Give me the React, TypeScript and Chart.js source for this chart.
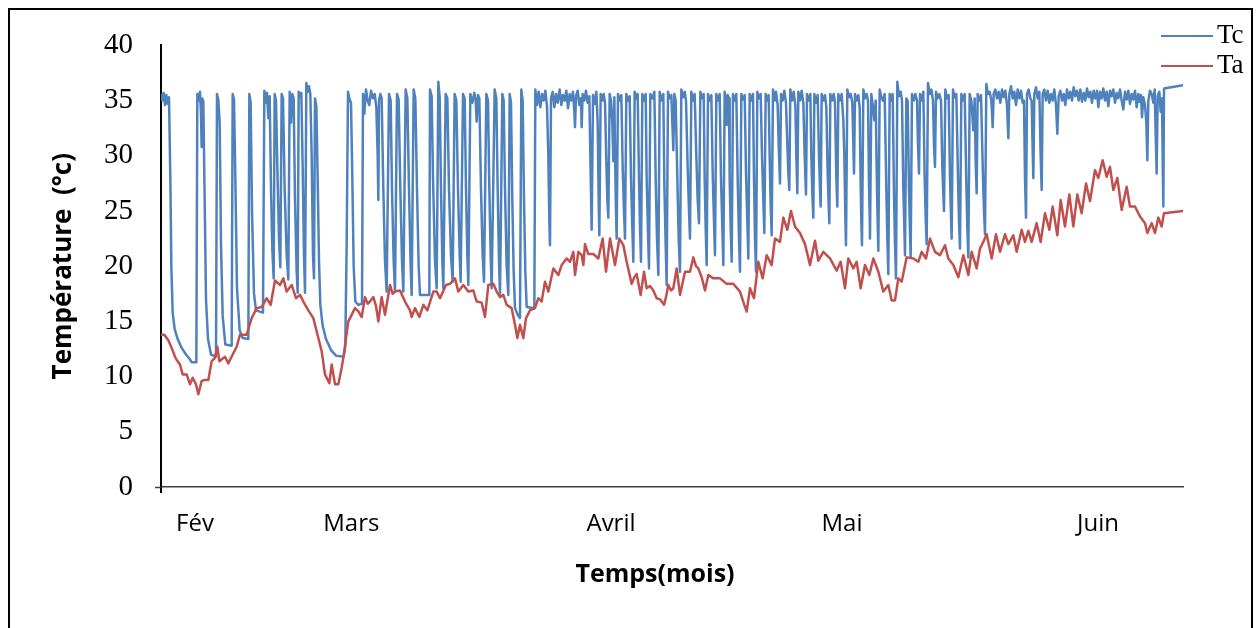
import { useEffect, useRef } from 'react';
import { Chart, registerables } from 'chart.js';

Chart.register(...registerables);

type Row = [number, number];

// Tc : [heures depuis le début de l'enregistrement, température °C]
const tcFev: Row[] = [
  [0, 35.6], [4, 35.0], [8, 35.7], [12, 34.6], [16, 35.5], [20, 34.7], [24, 35.3],
  [28, 28.0], [31, 20.0], [35, 15.8], [41, 14.3], [50, 13.4], [62, 12.6], [75, 12.0], [86, 11.6], [92, 11.3], [106, 11.3],
  [109, 35.6], [113, 35.0], [117, 35.8], [120, 33.8], [122, 30.8], [124, 35.2], [127, 34.9],
  [131, 26.0], [135, 17.0], [141, 13.4], [150, 12.0], [165, 11.8],
  [168, 35.6], [172, 35.1], [176, 33.0], [180, 22.0], [185, 15.5], [193, 12.9], [212, 12.8],
  [215, 35.6], [219, 35.1], [223, 28.0], [228, 18.0], [236, 14.2], [245, 13.5], [262, 13.4],
  [265, 35.6], [269, 34.8], [273, 25.0], [279, 17.5], [285, 16.0], [306, 15.8],
  [310, 35.9], [314, 34.8], [318, 35.7], [322, 33.4], [326, 35.4],
  [330, 27.0], [334, 21.5], [338, 18.9],
  [341, 35.6], [345, 35.0], [349, 29.0], [354, 22.5], [358, 19.9],
  [362, 35.6], [366, 35.2], [371, 27.0], [377, 21.0], [382, 18.8],
  [386, 35.8], [390, 33.0], [394, 35.6], [398, 35.2], [402, 26.0], [407, 19.5], [410, 17.6],
  [413, 35.8], [417, 35.3], [421, 35.7], [425, 29.0], [429, 21.0], [432, 17.6],
  [436, 36.6], [440, 35.8], [444, 36.3], [448, 35.6], [452, 30.0], [456, 21.0], [459, 18.9],
  [462, 35.2], [466, 34.5], [470, 28.0], [474, 20.5], [478, 16.5], [485, 14.6], [495, 13.4], [510, 12.4],
  [525, 11.9], [548, 11.8], [553, 13.0], [557, 22.0], [561, 35.8],
];

const tcMars: Row[] = [
  [565, 35.2], [570, 34.8], [574, 28.0], [578, 20.0], [583, 16.8], [592, 16.5], [603, 16.6],
  [606, 35.6], [610, 33.8], [615, 36.0], [620, 35.0], [625, 34.6], [630, 35.9], [636, 35.2], [641, 35.6],
  [646, 34.4], [650, 30.0], [652, 26.0], [654, 35.0], [658, 35.6], [662, 35.2],
  [667, 27.0], [672, 20.5], [677, 17.7],
  [684, 35.6], [689, 35.0], [693, 27.0], [698, 20.5], [702, 17.7],
  [708, 35.6], [713, 35.1], [718, 27.0], [723, 20.5], [727, 17.7],
  [734, 36.0], [739, 35.2], [744, 27.0], [749, 20.0], [752, 17.4],
  [758, 36.0], [763, 35.2], [768, 27.0], [773, 20.0], [777, 17.4], [805, 17.4],
  [807, 36.0], [812, 35.4], [816, 28.0], [822, 20.5], [827, 18.0],
  [832, 36.7], [836, 35.3], [840, 27.0], [844, 20.5], [847, 18.0],
  [854, 35.6], [859, 35.2], [864, 27.0], [870, 21.0], [875, 18.6],
  [881, 35.6], [886, 35.0], [891, 27.0], [896, 21.0], [899, 18.6],
  [906, 35.6], [911, 35.2], [915, 27.0], [919, 21.0], [922, 18.3],
  [928, 35.6], [934, 34.8], [940, 35.7], [944, 35.0], [947, 33.1], [951, 35.5], [955, 35.2],
  [960, 27.0], [965, 21.0], [969, 18.6],
  [976, 35.6], [981, 35.0], [985, 27.0], [989, 21.0], [992, 18.0],
  [1001, 36.0], [1006, 35.2], [1010, 27.0], [1014, 20.5], [1017, 17.4],
  [1024, 35.6], [1028, 35.0], [1032, 27.0], [1037, 20.0], [1042, 17.4],
  [1046, 35.6], [1050, 34.8], [1054, 26.0], [1058, 19.5], [1062, 16.2], [1070, 15.6], [1077, 15.3],
  [1081, 36.0], [1085, 35.0], [1089, 26.0], [1093, 19.5], [1097, 16.3], [1120, 16.2],
  [1123, 36.0], [1128, 34.6], [1133, 35.8], [1138, 34.4], [1143, 35.6], [1148, 35.0], [1153, 35.9],
  [1158, 34.5], [1162, 30.0], [1165, 24.0], [1167, 21.9], [1170, 35.2], [1175, 35.8], [1180, 34.4],
  [1185, 35.6], [1190, 34.8], [1196, 36.0], [1201, 34.6], [1206, 35.5], [1211, 35.0], [1216, 35.9],
  [1221, 34.3], [1226, 35.6], [1231, 35.0], [1236, 35.8], [1240, 34.0], [1242, 32.6], [1245, 35.4],
  [1250, 35.9], [1255, 34.6], [1260, 35.2], [1262, 32.6], [1265, 35.6], [1270, 35.0], [1275, 35.9],
  [1280, 34.8], [1285, 35.4], [1288, 30.0], [1292, 23.3], [1296, 35.5], [1301, 34.7], [1306, 35.8],
  [1310, 33.0], [1313, 26.0], [1315, 22.8], [1319, 35.6],
];

const tcAvril: Row[] = [
  [1324, 35.0], [1328, 35.6], [1332, 34.8],
  [1336, 29.5], [1339, 26.0], [1342, 24.4], [1346, 35.6], [1350, 35.0],
  [1354, 33.0], [1357, 29.5], [1360, 35.3],
  [1363, 28.5], [1365, 25.0], [1367, 22.5], [1371, 35.6], [1376, 35.0], [1381, 35.5],
  [1385, 29.0], [1389, 25.0], [1392, 22.5], [1396, 35.6], [1401, 35.0], [1406, 35.4],
  [1410, 28.0], [1414, 23.5], [1417, 20.4], [1421, 35.8], [1426, 35.2], [1430, 35.6],
  [1434, 28.0], [1437, 23.5], [1440, 20.4], [1444, 35.6], [1449, 35.0], [1454, 35.6],
  [1457, 28.0], [1461, 23.0], [1464, 19.8], [1468, 35.6], [1474, 35.2], [1480, 35.8],
  [1484, 28.0], [1488, 22.5], [1492, 19.2], [1496, 35.8], [1502, 35.0], [1507, 35.6],
  [1510, 27.5], [1514, 22.0], [1517, 18.3], [1521, 35.8], [1526, 35.2], [1531, 35.5],
  [1534, 33.0], [1537, 30.5], [1540, 35.6], [1544, 35.0],
  [1549, 28.0], [1553, 22.5], [1557, 19.5], [1561, 36.0], [1566, 35.3], [1571, 35.8], [1575, 35.0],
  [1580, 29.0], [1584, 25.0], [1587, 22.5], [1591, 35.8], [1596, 35.0], [1601, 35.6],
  [1606, 30.0], [1610, 26.0], [1614, 23.9], [1618, 35.8], [1623, 35.2], [1628, 35.6],
  [1631, 28.0], [1634, 23.5], [1637, 20.1], [1641, 35.6], [1646, 35.0], [1651, 35.5],
  [1655, 28.5], [1659, 24.0], [1662, 21.0], [1666, 35.6], [1671, 35.0], [1676, 35.6],
  [1680, 28.0], [1684, 23.5], [1687, 20.1], [1691, 35.8], [1694, 35.0], [1697, 32.8], [1700, 35.5], [1704, 35.2],
  [1706, 28.0], [1709, 23.5], [1712, 20.4], [1716, 35.6], [1721, 35.0], [1726, 35.6],
  [1730, 28.0], [1734, 22.5], [1737, 19.5], [1741, 35.6], [1746, 35.1], [1751, 35.5],
  [1755, 28.5], [1759, 24.0], [1762, 20.7], [1766, 35.6], [1771, 35.0], [1776, 35.6],
  [1779, 28.0], [1782, 22.5], [1785, 19.5], [1789, 35.8], [1794, 35.2], [1799, 35.6],
  [1803, 30.0], [1807, 26.0], [1810, 23.0], [1814, 35.6], [1819, 35.0], [1823, 35.5],
  [1826, 30.0], [1829, 25.5], [1832, 22.8], [1836, 36.0], [1841, 35.0], [1845, 35.8], [1850, 34.6],
  [1853, 31.0], [1857, 27.5], [1860, 35.6], [1865, 35.0], [1870, 35.9], [1875, 34.8],
  [1879, 31.0], [1882, 28.5], [1885, 26.9], [1888, 36.0], [1893, 35.0], [1898, 35.8], [1903, 34.6],
  [1906, 30.0], [1909, 26.6], [1912, 35.8], [1917, 35.0], [1922, 35.9], [1927, 34.8],
  [1931, 30.0], [1935, 26.5], [1938, 35.6], [1943, 35.0], [1948, 35.6],
  [1951, 30.0], [1954, 26.5], [1957, 24.4], [1960, 35.6], [1965, 34.8], [1970, 35.5],
  [1974, 30.0], [1977, 27.0], [1979, 25.4], [1982, 35.6], [1987, 35.0], [1992, 35.5], [1996, 34.4],
  [2000, 28.5], [2003, 25.5], [2005, 23.9], [2008, 35.6], [2013, 35.0], [2018, 35.6], [2022, 34.8],
  [2026, 28.0], [2029, 25.4], [2032, 35.6], [2037, 35.0],
];

const tcMai: Row[] = [
  [2042, 35.6], [2047, 33.2], [2050, 30.0], [2053, 24.5], [2055, 21.9], [2059, 36.0], [2064, 35.3], [2069, 35.6], [2074, 34.8],
  [2077, 31.0], [2079, 28.4], [2082, 35.6], [2087, 35.0], [2092, 35.5], [2096, 34.4],
  [2099, 27.5], [2101, 24.0], [2103, 21.9], [2107, 36.0], [2112, 35.2], [2117, 35.6], [2121, 35.0],
  [2124, 27.5], [2126, 24.5], [2127, 22.5], [2131, 35.6], [2136, 34.4], [2140, 33.2], [2144, 35.0],
  [2148, 27.0], [2150, 24.0], [2152, 21.4], [2156, 36.0], [2161, 35.3], [2166, 35.0], [2171, 35.6],
  [2176, 27.0], [2179, 22.5], [2182, 19.3], [2186, 35.6], [2191, 35.0], [2195, 35.6],
  [2199, 26.5], [2202, 22.0], [2205, 18.9], [2209, 36.7], [2214, 35.4], [2219, 35.8], [2223, 35.0],
  [2227, 27.0], [2230, 23.5], [2232, 21.0], [2236, 35.2], [2240, 35.0],
  [2244, 27.0], [2247, 23.0], [2249, 20.8], [2253, 35.6], [2258, 35.0], [2263, 35.6], [2268, 35.0],
  [2271, 31.0], [2274, 28.4], [2277, 35.6], [2282, 35.0], [2287, 35.8],
  [2291, 28.0], [2294, 24.5], [2297, 22.0], [2301, 36.6], [2306, 35.6], [2311, 36.0], [2316, 35.0],
  [2319, 31.0], [2322, 29.0], [2325, 35.8], [2330, 35.2], [2335, 35.6], [2340, 35.0],
  [2344, 29.0], [2347, 26.5], [2349, 25.0], [2353, 36.0], [2358, 35.2], [2363, 35.5],
  [2367, 28.0], [2370, 24.5], [2372, 22.5], [2376, 36.0], [2381, 35.3], [2386, 35.6],
  [2391, 28.0], [2394, 24.0], [2397, 21.6], [2401, 35.6], [2406, 35.0], [2411, 35.6],
  [2416, 27.5], [2419, 23.5], [2422, 20.8], [2426, 35.6], [2431, 35.0], [2437, 32.3], [2441, 35.2],
  [2444, 29.5], [2447, 26.6], [2450, 35.6], [2455, 35.0], [2460, 35.5],
  [2466, 28.0], [2469, 25.0], [2472, 22.9], [2476, 36.5], [2481, 35.6], [2486, 35.8], [2491, 35.0],
  [2493, 34.0], [2495, 32.6], [2498, 35.6], [2503, 36.0], [2508, 35.2], [2513, 35.8], [2518, 34.8],
  [2523, 36.0], [2528, 35.3], [2533, 35.9], [2538, 34.6], [2542, 31.6], [2545, 35.6], [2550, 36.3],
  [2555, 35.2], [2560, 35.8], [2565, 34.6], [2570, 36.0], [2575, 35.2], [2580, 35.9], [2585, 34.8], [2589, 35.0],
  [2592, 28.0], [2595, 24.4], [2598, 35.6], [2603, 36.0], [2608, 35.2], [2612, 35.0],
  [2615, 30.5], [2617, 28.0], [2620, 35.6], [2625, 36.2], [2630, 35.2], [2635, 35.8],
  [2639, 30.0], [2642, 26.9], [2645, 35.6], [2650, 36.0], [2655, 35.0], [2660, 35.9], [2665, 34.8],
  [2670, 35.6], [2675, 35.0], [2680, 36.0], [2685, 34.6], [2689, 32.0], [2693, 35.4], [2698, 35.9],
  [2703, 35.0], [2708, 35.6], [2713, 34.6], [2718, 36.0], [2723, 35.2], [2728, 35.8], [2733, 35.0],
  [2738, 36.2], [2743, 35.4], [2748, 35.9], [2753, 35.0], [2758, 36.0], [2763, 34.9], [2768, 35.7],
  [2773, 35.0], [2778, 36.1], [2783, 35.3], [2788, 35.8], [2793, 34.8], [2798, 35.9],
];

const tcJuin: Row[] = [
  [2803, 35.2], [2808, 35.9], [2812, 34.4], [2817, 35.8], [2822, 35.2], [2827, 36.1], [2832, 35.0],
  [2837, 35.8], [2842, 34.5], [2847, 35.9], [2852, 35.4], [2857, 36.0], [2862, 34.8], [2867, 35.7],
  [2872, 35.2], [2877, 36.0], [2882, 35.0], [2887, 34.2], [2892, 35.8], [2897, 35.1], [2902, 35.9],
  [2907, 34.7], [2912, 35.6], [2917, 35.1], [2922, 35.9], [2927, 34.4], [2932, 35.6], [2936, 34.9],
  [2940, 35.5], [2943, 33.5], [2947, 35.3], [2952, 34.6], [2956, 33.0], [2959, 29.6], [2962, 35.0],
  [2967, 35.9], [2972, 35.6], [2977, 34.8], [2981, 36.0], [2984, 32.0], [2987, 28.4], [2990, 35.4],
  [2995, 35.8], [2999, 34.0], [3003, 35.2], [3005, 30.0], [3007, 25.4], [3009, 36.1], [3066, 36.4],
];

// Ta : [heures depuis le début de l'enregistrement, température °C]
const taFev: Row[] = [
  [0, 13.8], [10, 13.8], [22, 13.3], [32, 12.6], [42, 11.8], [47, 11.5], [57, 11.1], [65, 10.2],
  [77, 10.2], [87, 9.3], [95, 9.9], [105, 9.3], [112, 8.4], [122, 9.6], [132, 9.7], [142, 9.7],
  [152, 11.4], [162, 11.7], [169, 12.7], [175, 11.4], [192, 11.8], [202, 11.2], [215, 12.0],
  [227, 12.7], [237, 13.8], [257, 13.8], [272, 15.3], [287, 16.2], [302, 16.3], [317, 17.1],
  [329, 16.5], [342, 18.7], [357, 18.3], [367, 18.9], [377, 17.7], [392, 18.3], [405, 17.1],
  [417, 17.4], [427, 16.8], [442, 16.0], [457, 15.3], [472, 13.5], [482, 12.3], [492, 10.2],
  [505, 9.4], [512, 11.1], [522, 9.3], [532, 9.3], [542, 10.8], [552, 12.6], [555, 13.5], [562, 15.0],
];

const taMars: Row[] = [
  [567, 15.3], [582, 16.2], [592, 15.9], [602, 15.4], [612, 17.2], [620, 16.6], [627, 16.8], [637, 17.2],
  [645, 16.4], [652, 15.0], [662, 17.2], [672, 15.6], [687, 18.3], [695, 17.5], [702, 17.7], [717, 17.8],
  [732, 16.8], [747, 16.0], [752, 15.4], [762, 16.2], [775, 15.4], [787, 16.5], [799, 16.0], [817, 17.7],
  [827, 17.7], [837, 17.1], [855, 18.3], [867, 18.4], [882, 18.9], [892, 17.7], [907, 18.3], [922, 17.7],
  [937, 17.8], [947, 16.8], [962, 16.7], [972, 15.4], [982, 18.3], [997, 18.4], [1007, 17.7], [1017, 17.2],
  [1027, 17.4], [1037, 16.5], [1052, 16.2], [1062, 14.7], [1069, 13.5], [1077, 14.7], [1087, 13.5],
  [1095, 15.3], [1107, 16.0], [1122, 16.2], [1132, 17.1], [1142, 16.8], [1152, 18.6], [1162, 17.7],
  [1177, 19.8], [1192, 19.2], [1202, 20.1], [1217, 20.7], [1227, 20.4], [1237, 21.3], [1242, 19.2],
  [1252, 21.3], [1262, 21.0], [1267, 20.1], [1272, 22.0], [1282, 21.1], [1297, 21.1], [1312, 20.7], [1325, 22.5],
];

const taAvril: Row[] = [
  [1335, 19.5], [1347, 22.5], [1362, 20.1], [1375, 22.5], [1387, 21.9], [1397, 20.4], [1412, 18.4],
  [1420, 19.0], [1427, 19.3], [1439, 17.4], [1449, 19.5], [1457, 18.0], [1467, 18.2], [1477, 17.8],
  [1487, 17.1], [1497, 17.0], [1509, 16.5], [1515, 17.2], [1522, 18.3], [1530, 17.8], [1537, 18.0],
  [1547, 19.8], [1557, 17.4], [1572, 19.5], [1587, 19.5], [1597, 20.8], [1605, 20.0], [1612, 19.8],
  [1622, 19.0], [1632, 17.8], [1642, 19.2], [1657, 18.9], [1677, 18.9], [1697, 18.4], [1717, 18.4],
  [1737, 17.7], [1750, 16.5], [1757, 15.9], [1767, 18.0], [1779, 17.1], [1792, 20.4], [1805, 18.9],
  [1817, 21.0], [1832, 20.1], [1842, 22.5], [1857, 22.2], [1867, 24.4], [1879, 23.3], [1890, 25.0],
  [1902, 23.6], [1917, 23.0], [1932, 22.0], [1947, 20.1], [1962, 22.3], [1972, 20.5], [1987, 21.3],
  [2007, 20.7], [2027, 19.6], [2039, 20.4],
];

const taMai: Row[] = [
  [2052, 18.0], [2062, 20.7], [2077, 19.8], [2087, 20.4], [2099, 18.0], [2112, 20.1], [2125, 19.2],
  [2137, 20.7], [2152, 19.5], [2167, 17.7], [2182, 18.3], [2192, 16.9], [2202, 16.9], [2212, 18.9],
  [2222, 18.6], [2237, 20.8], [2257, 20.7], [2272, 20.4], [2282, 21.3], [2295, 20.7], [2307, 22.5],
  [2322, 21.3], [2337, 21.0], [2352, 21.9], [2362, 20.7], [2377, 20.1], [2392, 19.0], [2407, 21.0],
  [2422, 19.2], [2432, 21.3], [2447, 19.8], [2457, 21.6], [2467, 22.2], [2477, 22.9], [2492, 20.7],
  [2505, 22.9], [2517, 21.3], [2532, 22.9], [2542, 22.0], [2557, 22.8], [2567, 21.3], [2582, 23.3],
  [2592, 22.2], [2602, 23.2], [2612, 22.2], [2627, 23.9], [2639, 22.2], [2652, 24.8], [2665, 23.3],
  [2675, 25.4], [2689, 22.8], [2699, 26.0], [2712, 23.6], [2725, 26.5], [2737, 23.6], [2749, 26.5],
  [2762, 24.8], [2775, 27.5], [2787, 25.9],
];

const taJuin: Row[] = [
  [2802, 28.7], [2812, 28.0], [2825, 29.6], [2837, 28.1], [2847, 29.0], [2857, 26.9], [2869, 28.0],
  [2882, 25.1], [2897, 27.2], [2907, 25.4], [2922, 25.4], [2937, 24.5], [2952, 23.9], [2959, 23.0],
  [2972, 23.9], [2982, 23.0], [2992, 24.4], [3002, 23.6], [3009, 24.8], [3066, 25.0],
];

// Axis ticks
const monthTicks = [102, 571, 1350, 2043, 2811];
const monthLabels = ['Fév', 'Mars', 'Avril', 'Mai', 'Juin'];
const hourMax = 3066;
const tempMin = 0;
const tempMax = 40;
const tempStep = 5;

const seriesNames = ['Tc', 'Ta'];
const seriesColors = ['#4F81BD', '#C0504D'];

const toPoints = (rows: Row[]) => rows.map(([x, y]) => ({ x, y }));

// Legend, x-axis title and the little axis stubs past the origin
const decorations = {
  id: 'decorations',
  afterDraw(chart: any) {
    const { ctx, chartArea } = chart;
    ctx.save();

    ctx.strokeStyle = '#000';
    ctx.lineWidth = 2;
    ctx.beginPath();
    ctx.moveTo(chartArea.left, chartArea.bottom);
    ctx.lineTo(chartArea.left, chartArea.bottom + 6);
    ctx.stroke();

    ctx.strokeStyle = '#404040';
    ctx.lineWidth = 1.5;
    ctx.beginPath();
    ctx.moveTo(chartArea.left - 6, chartArea.bottom + 0.5);
    ctx.lineTo(chartArea.left, chartArea.bottom + 0.5);
    ctx.stroke();

    // legend
    ctx.font = '27px "Liberation Serif"';
    ctx.textAlign = 'left';
    ctx.textBaseline = 'middle';
    seriesNames.forEach((name, i) => {
      const y = 36 + i * 30;
      ctx.strokeStyle = seriesColors[i];
      ctx.lineWidth = 2;
      ctx.beginPath();
      ctx.moveTo(1161, y);
      ctx.lineTo(1213, y);
      ctx.stroke();
      ctx.fillStyle = '#000';
      ctx.fillText(name, 1217, y);
    });

    // x-axis title
    ctx.font = 'bold 25px "Open Sans"';
    ctx.textAlign = 'center';
    ctx.fillStyle = '#000';
    ctx.fillText('Temps(mois)', 655, 575);

    ctx.restore();
  },
};

export default function App() {
  const canvasRef = useRef<HTMLCanvasElement | null>(null);

  useEffect(() => {
    const canvas = canvasRef.current;
    if (!canvas) return;

    const chart = new Chart(canvas, {
      type: 'line',
      data: {
        datasets: [
          {
            label: seriesNames[0],
            data: toPoints([...tcFev, ...tcMars, ...tcAvril, ...tcMai, ...tcJuin]),
            borderColor: seriesColors[0],
            backgroundColor: seriesColors[0],
            borderWidth: 2.5,
            borderJoinStyle: 'round',
            pointRadius: 0,
            tension: 0,
            order: 1,
          },
          {
            label: seriesNames[1],
            data: toPoints([...taFev, ...taMars, ...taAvril, ...taMai, ...taJuin]),
            borderColor: seriesColors[1],
            backgroundColor: seriesColors[1],
            borderWidth: 2.5,
            borderJoinStyle: 'round',
            pointRadius: 0,
            tension: 0,
            order: 0,
          },
        ],
      },
      options: {
        animation: false,
        responsive: false,
        devicePixelRatio: 1,
        events: [],
        layout: { padding: { top: 40, right: 75, bottom: 0, left: 0 } },
        plugins: {
          legend: { display: false },
          tooltip: { enabled: false },
        },
        scales: {
          x: {
            type: 'linear',
            min: 0,
            max: hourMax,
            grid: { display: false, drawTicks: false },
            border: { display: true, color: '#404040', width: 1.5 },
            afterBuildTicks: (axis: any) => {
              axis.ticks = monthTicks.map((value) => ({ value }));
            },
            afterFit: (axis: any) => {
              axis.height = 141;
            },
            ticks: {
              autoSkip: false,
              maxRotation: 0,
              padding: 23,
              color: '#000',
              font: { family: '"Open Sans"', size: 24 },
              callback: (_v: any, index: number) => monthLabels[index],
            },
          },
          y: {
            min: tempMin,
            max: tempMax,
            grid: { display: false, drawTicks: false },
            border: { display: true, color: '#000', width: 2 },
            afterFit: (axis: any) => {
              axis.width = 161;
            },
            ticks: {
              stepSize: tempStep,
              padding: 28,
              color: '#000',
              font: { family: '"Liberation Serif"', size: 29 },
            },
            title: {
              display: true,
              text: 'Température  (°c)',
              color: '#000',
              font: { family: '"Open Sans"', size: 26, weight: 'bold' },
              padding: { top: 48, bottom: 0 },
            },
          },
        },
      },
      plugins: [decorations],
    });

    return () => chart.destroy();
  }, []);

  return (
    <div
      style={{
        position: 'absolute',
        left: 0,
        top: 0,
        width: 1258,
        height: 628,
        overflow: 'hidden',
        background: '#fff',
      }}
    >
      <div
        style={{
          position: 'absolute',
          left: 8,
          top: 8,
          width: 1245,
          height: 660,
          boxSizing: 'border-box',
          border: '2px solid #000',
        }}
      />
      <canvas
        ref={canvasRef}
        width={1258}
        height={628}
        style={{ position: 'absolute', left: 0, top: 0, width: 1258, height: 628 }}
      />
    </div>
  );
}
